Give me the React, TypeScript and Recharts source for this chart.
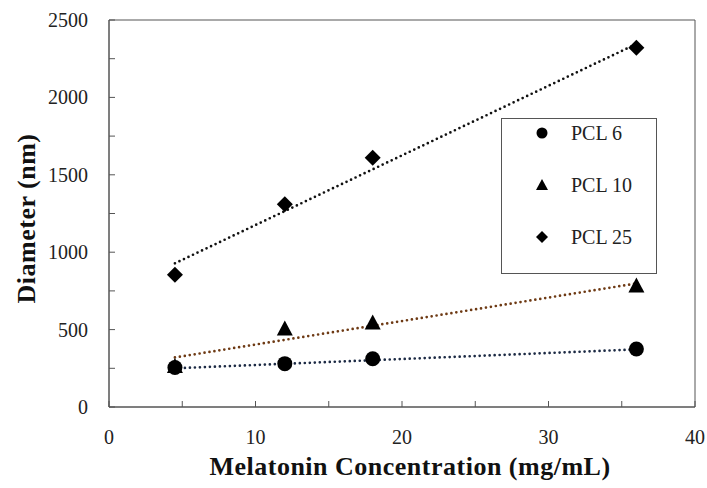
import React from 'react';
import { ScatterChart, Scatter, XAxis, YAxis, ReferenceArea, Label } from 'recharts';

const concentrations = [4.5, 12, 18, 36];
const pcl6 = [255, 280, 312, 375];
const pcl10 = [258, 500, 540, 778];
const pcl25 = [855, 1310, 1610, 2320];

const trendX = [4.5, 36];
const trend6 = [250, 372];
const trend10 = [320, 798];
const trend25 = [928, 2345];

const xTicks = [0, 5, 10, 15, 20, 25, 30, 35, 40];
const yTicks = [0, 250, 500, 750, 1000, 1250, 1500, 1750, 2000, 2250, 2500];

const seriesNames = ['PCL 6', 'PCL 10', 'PCL 25'];

const toPts = (xs: number[], ys: number[]) => xs.map((x, i) => ({ x, y: ys[i] }));

const FONT = '"Liberation Serif", "Times New Roman", serif';
const AXIS = '#555';

const XTick = (p: any) => {
  const v = p.payload.value;
  return (
    <g>
      <line x1={p.x} y1={p.y} x2={p.x} y2={p.y - 6} stroke={AXIS} strokeWidth={1} />
      {v % 10 === 0 && (
        <text x={p.x} y={p.y + 30} textAnchor="middle" dominantBaseline="central" fontFamily={FONT} fontSize={20} fill="#222">
          {v}
        </text>
      )}
    </g>
  );
};

const YTick = (p: any) => {
  const v = p.payload.value;
  return (
    <g>
      <line x1={p.x} y1={p.y} x2={p.x + 6} y2={p.y} stroke={AXIS} strokeWidth={1} />
      {v % 500 === 0 && (
        <text x={p.x - 21} y={p.y} textAnchor="end" dominantBaseline="central" fontFamily={FONT} fontSize={20} fill="#222">
          {v}
        </text>
      )}
    </g>
  );
};

const CircleShape = (p: any) => <circle cx={p.cx} cy={p.cy} r={7.5} fill="#000" />;
const TriShape = (p: any) => (
  <polygon points={`${p.cx},${p.cy - 9} ${p.cx + 8},${p.cy + 6} ${p.cx - 8},${p.cy + 6}`} fill="#000" />
);
const DiamondShape = (p: any) => (
  <polygon points={`${p.cx},${p.cy - 8} ${p.cx + 8},${p.cy} ${p.cx},${p.cy + 8} ${p.cx - 8},${p.cy}`} fill="#000" />
);
const NoShape = () => <g />;

const XTitle = (p: any) => {
  const vb = p.viewBox;
  return (
    <text x={vb.x + vb.width / 2 + 8} y={466} textAnchor="middle" dominantBaseline="central" fontFamily={FONT} fontSize={26} fontWeight="bold" fill="#111" letterSpacing={0.5}>
      Melatonin Concentration (mg/mL)
    </text>
  );
};

const YTitle = (p: any) => {
  const vb = p.viewBox;
  const cy = vb.y + vb.height / 2 + 5;
  return (
    <text x={26} y={cy} transform={`rotate(-90, 26, ${cy})`} textAnchor="middle" dominantBaseline="central" fontFamily={FONT} fontSize={26} fontWeight="bold" fill="#111" letterSpacing={0.5}>
      Diameter (nm)
    </text>
  );
};

const LegendBox = () => {
  const icons = [
    <circle cx={10} cy={10} r={5.5} fill="#000" />,
    <polygon points="10,4 16,15 4,15" fill="#000" />,
    <polygon points="10,4 16,10 10,16 4,10" fill="#000" />,
  ];
  return (
    <div style={{ position: 'absolute', left: 501, top: 118, width: 156, height: 156, border: `1px solid ${AXIS}`, boxSizing: 'border-box', background: '#fff' }}>
      {seriesNames.map((n, i) => (
        <div key={n} style={{ position: 'absolute', left: 30, top: 4 + i * 52, height: 20, display: 'flex', alignItems: 'center' }}>
          <svg width={20} height={20}>{icons[i]}</svg>
          <span style={{ marginLeft: 19, fontFamily: FONT, fontSize: 20, color: '#222', lineHeight: '20px' }}>{n}</span>
        </div>
      ))}
    </div>
  );
};

const dotted = (color: string) => ({ stroke: color, strokeWidth: 2.7, strokeDasharray: '0 5', strokeLinecap: 'round' as const });

export default function App() {
  return (
    <div style={{ position: 'absolute', left: 0, top: 0, width: 707, height: 488, background: '#fff' }}>
      <ScatterChart width={707} height={488} margin={{ top: 20, right: 12, left: 0, bottom: 0 }}>
        <XAxis
          type="number"
          dataKey="x"
          domain={[0, 40]}
          ticks={xTicks}
          interval={0}
          height={81}
          tickSize={0}
          tickMargin={0}
          tickLine={false}
          axisLine={{ stroke: AXIS }}
          tick={<XTick />}
        >
          <Label content={<XTitle />} />
        </XAxis>
        <YAxis
          type="number"
          dataKey="y"
          domain={[0, 2500]}
          ticks={yTicks}
          interval={0}
          width={109}
          tickSize={0}
          tickMargin={0}
          tickLine={false}
          axisLine={{ stroke: AXIS }}
          tick={<YTick />}
        >
          <Label content={<YTitle />} />
        </YAxis>
        <ReferenceArea x1={0} x2={40} y1={0} y2={2500} fill="none" stroke={AXIS} strokeWidth={1} ifOverflow="visible" />
        <Scatter data={toPts(trendX, trend6)} line={dotted('#1c2a44')} shape={<NoShape />} isAnimationActive={false} legendType="none" />
        <Scatter data={toPts(trendX, trend10)} line={dotted('#6e3a14')} shape={<NoShape />} isAnimationActive={false} legendType="none" />
        <Scatter data={toPts(trendX, trend25)} line={dotted('#111')} shape={<NoShape />} isAnimationActive={false} legendType="none" />
        <Scatter name="PCL 6" data={toPts(concentrations, pcl6)} shape={<CircleShape />} isAnimationActive={false} />
        <Scatter name="PCL 10" data={toPts(concentrations, pcl10)} shape={<TriShape />} isAnimationActive={false} />
        <Scatter name="PCL 25" data={toPts(concentrations, pcl25)} shape={<DiamondShape />} isAnimationActive={false} />
      </ScatterChart>
      <LegendBox />
    </div>
  );
}
